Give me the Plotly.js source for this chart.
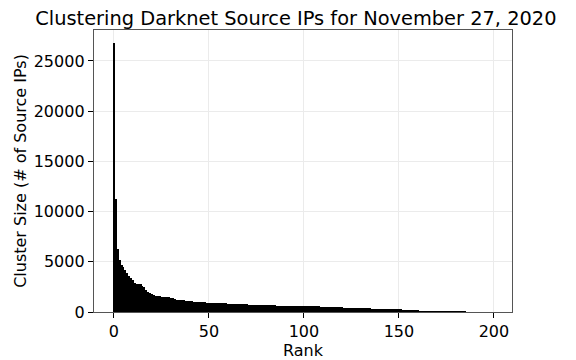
<!DOCTYPE html>
<html>
<head>
<meta charset="utf-8">
<script src="https://cdn.plot.ly/plotly-3.0.1.min.js"></script>
<style>html,body{margin:0;padding:0;background:#fff;}#chart{width:576px;height:360px;}</style>
</head>
<body>
<div id="chart"></div>
<script>
// Cluster sizes by rank
const clusterSizes = [
  26750, 11300, 6250, 5150, 4650, 4450, 4200, 3850, 3600, 3350,
  3180, 2850, 2800, 2780, 2760, 2580, 2450, 2200, 2020, 1920,
  1760, 1650, 1600, 1580, 1560, 1530, 1510, 1500, 1480, 1460,
  1380, 1360, 1340, 1220, 1200, 1190, 1180, 1160, 1100, 1090,
  1080, 1060, 1010, 1000, 995, 990, 985, 980, 950, 930,
  925, 920, 915, 910, 905, 900, 895, 890, 885, 880,
  820, 815, 812, 810, 808, 805, 802, 800, 798, 795,
  790, 720, 718, 716, 714, 712, 710, 708, 706, 704,
  702, 700, 698, 695, 692, 690, 600, 598, 596, 594,
  592, 590, 588, 586, 584, 582, 580, 578, 576, 574,
  572, 570, 568, 566, 565, 564, 563, 562, 560, 500,
  498, 495, 492, 490, 488, 485, 480, 475, 470, 465,
  460, 380, 378, 375, 372, 370, 368, 366, 364, 362,
  360, 358, 356, 354, 352, 350, 348, 346, 344, 342,
  340, 338, 335, 332, 330, 290, 285, 282, 280, 278,
  275, 270, 230, 228, 225, 222, 220, 215, 210, 205,
  200, 120, 118, 116, 115, 114, 112, 110, 108, 106,
  105, 104, 103, 102, 101, 100, 99, 98, 97, 96,
  95, 94, 93, 92, 91, 90, 50, 48, 46, 45,
  44, 42, 40, 38, 36, 35, 34, 33, 32, 30
];
const ranks = clusterSizes.map((_, i) => i);
const xTicks = [0, 50, 100, 150, 200];
const yTicks = [0, 5000, 10000, 15000, 20000, 25000];

const font = "DejaVu Sans, sans-serif";
const data = [{
  type: 'bar',
  x: ranks,
  y: clusterSizes,
  width: 1,
  marker: {color: '#000000', line: {width: 0}},
  hoverinfo: 'none'
}];
const layout = {
  width: 576, height: 360,
  margin: {l: 94, r: 64, t: 30, b: 48, pad: 0},
  paper_bgcolor: '#ffffff', plot_bgcolor: '#ffffff',
  showlegend: false,
  bargap: 0,
  font: {family: font, size: 16, color: '#000'},
  title: {
    text: 'Clustering Darknet Source IPs for November 27, 2020',
    font: {family: font, size: 19.4, color: '#000'},
    xref: 'paper', x: 0.483, xanchor: 'center',
    yref: 'container', y: 0.95, yanchor: 'middle'
  },
  xaxis: {
    range: [-10.5, 209.5],
    tickvals: xTicks,
    ticktext: xTicks.map(String),
    ticks: 'outside', ticklen: 5, tickwidth: 1, tickcolor: '#000',
    showline: true, linecolor: '#555', linewidth: 1.2, mirror: true,
    showgrid: true, gridcolor: '#ebebeb', gridwidth: 1,
    zeroline: false,
    tickfont: {family: font, size: 16},
    title: {text: 'Rank', font: {family: font, size: 16}, standoff: 2}
  },
  yaxis: {
    range: [0, 28087],
    tickvals: yTicks,
    ticktext: yTicks.map(String),
    ticks: 'outside', ticklen: 5, tickwidth: 1, tickcolor: '#000',
    showline: true, linecolor: '#555', linewidth: 1.2, mirror: true,
    showgrid: true, gridcolor: '#ebebeb', gridwidth: 1,
    zeroline: false,
    tickfont: {family: font, size: 16},
    title: {text: 'Cluster Size (# of Source IPs)', font: {family: font, size: 16}, standoff: 3}
  }
};
Plotly.newPlot('chart', data, layout, {staticPlot: true, displayModeBar: false});
</script>
</body>
</html>
